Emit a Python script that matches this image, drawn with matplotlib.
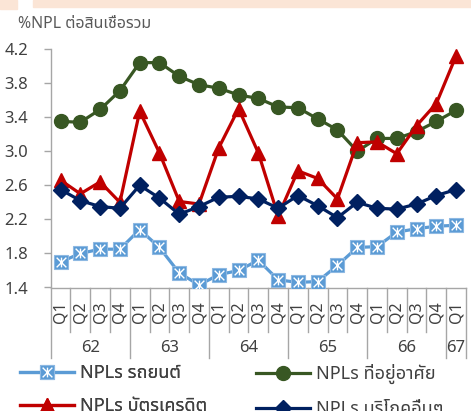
import matplotlib
matplotlib.use("Agg")
import matplotlib.pyplot as plt
from matplotlib import font_manager as fm
from matplotlib.path import Path
from matplotlib.lines import Line2D
from matplotlib.legend_handler import HandlerTuple
import matplotlib.transforms as mtransforms

# ---------------- data ----------------
quarters = ["Q1", "Q2", "Q3", "Q4", "Q1", "Q2", "Q3", "Q4", "Q1", "Q2", "Q3", "Q4",
            "Q1", "Q2", "Q3", "Q4", "Q1", "Q2", "Q3", "Q4", "Q1"]
years = ["62", "63", "64", "65", "66", "67"]
year_sizes = [4, 4, 4, 4, 4, 1]

auto = [1.70, 1.80, 1.85, 1.85, 2.08, 1.87, 1.57, 1.43, 1.55, 1.60, 1.72,
        1.49, 1.46, 1.47, 1.66, 1.87, 1.88, 2.05, 2.09, 2.12, 2.13]
residential = [3.35, 3.34, 3.49, 3.71, 4.04, 4.04, 3.88, 3.78, 3.74, 3.66, 3.62,
               3.52, 3.51, 3.38, 3.25, 3.00, 3.15, 3.15, 3.23, 3.35, 3.48]
credit = [2.66, 2.50, 2.64, 2.40, 3.47, 2.98, 2.41, 2.38, 3.04, 3.50, 2.98,
          2.24, 2.77, 2.68, 2.44, 3.10, 3.11, 2.97, 3.30, 3.56, 4.12]
other = [2.55, 2.42, 2.35, 2.33, 2.60, 2.45, 2.26, 2.35, 2.46, 2.47, 2.44,
         2.33, 2.48, 2.36, 2.22, 2.40, 2.33, 2.32, 2.38, 2.48, 2.55]

names = ["NPLs รถยนต์", "NPLs ที่อยู่อาศัย", "NPLs บัตรเครดิต", "NPLs บริโภคอื่นๆ"]
title = "%NPL ต่อสินเชื่อรวม"
yticks = [1.4, 1.8, 2.2, 2.6, 3.0, 3.4, 3.8, 4.2]

# ---------------- fonts ----------------
def find_thai_families():
    fams = []
    try:
        from fontTools.ttLib import TTFont
    except Exception:
        return fams
    for fe in fm.fontManager.ttflist:
        try:
            f = TTFont(fe.fname, fontNumber=0, lazy=True)
            cmap = f.getBestCmap()
            if cmap and 0x0E15 in cmap and 0x0E23 in cmap:
                if fe.name not in fams:
                    fams.append(fe.name)
        except Exception:
            pass
    return fams

thai = find_thai_families()
pref = [n for n in ["Noto Sans Thai", "Noto Sans Thai UI", "Loma", "Garuda",
                    "Tahoma", "Leelawadee UI"] if n in thai]
thai_pick = (pref + thai)[:1]
families = ["Noto Sans"] + thai_pick + ["DejaVu Sans"]
plt.rcParams["font.family"] = families

# ---------------- figure ----------------
W, H = 471, 411
fig = plt.figure(figsize=(W / 100, H / 100), dpi=100)
fig.patch.set_facecolor("white")

# peach band at top
fig.patches.append(plt.Rectangle((0, 1 - 9 / H), 17 / W, 9 / H, transform=fig.transFigure,
                                 color="#FBE5D6", zorder=0))
fig.patches.append(plt.Rectangle((33 / W, 1 - 7 / H), 1 - 33 / W, 7 / H,
                                 transform=fig.transFigure, color="#FBE5D6", zorder=0))

ax_l, ax_r, ax_t, ax_b = 50.7, 466.0, 49.0, 287.5
ax = fig.add_axes([ax_l / W, 1 - ax_b / H, (ax_r - ax_l) / W, (ax_b - ax_t) / H])

x = list(range(len(quarters)))
lw = 2.3
ms = 9.5

star = Path([(0, -1), (0, 1), (-1, -1), (1, 1), (-1, 1), (1, -1)],
            [Path.MOVETO, Path.LINETO, Path.MOVETO, Path.LINETO, Path.MOVETO, Path.LINETO])

c_auto, c_res, c_cred, c_oth = "#5B9BD5", "#385723", "#C00000", "#002060"

h_auto, = ax.plot(x, auto, color=c_auto, lw=lw, marker="s", ms=ms,
                  mfc=c_auto, mec="#8DB8E2", mew=0.8, zorder=3)
h_auto2, = ax.plot(x, auto, ls="none", marker=star, ms=7, mec="white", mew=1.0, zorder=3.1)
h_res, = ax.plot(x, residential, color=c_res, lw=lw, marker="o", ms=ms + 0.5,
                 mfc=c_res, mec=c_res, zorder=4)
h_cred, = ax.plot(x, credit, color=c_cred, lw=lw, marker="^", ms=ms + 1,
                  mfc=c_cred, mec=c_cred, zorder=5)
h_oth, = ax.plot(x, other, color=c_oth, lw=lw, marker="D", ms=ms - 1,
                 mfc=c_oth, mec=c_oth, zorder=6)

ax.set_xlim(-0.5, len(quarters) - 0.5)
ax.set_ylim(yticks[0], yticks[-1])
ax.set_yticks(yticks)
ax.set_yticklabels([f"{v:.1f}" for v in yticks])

axis_col = "#A6A6A6"
txt_col = "#404040"
for s in ["top", "right"]:
    ax.spines[s].set_visible(False)
for s in ["left", "bottom"]:
    ax.spines[s].set_color(axis_col)
    ax.spines[s].set_linewidth(1.0)

ax.tick_params(axis="y", direction="out", length=5.3, width=1.0, color=axis_col,
               labelsize=12, labelcolor=txt_col, pad=11)

# category (quarter) labels
ax.set_xticks(x)
ax.set_xticklabels(quarters, rotation=90, fontsize=11.5, color=txt_col)
ax.tick_params(axis="x", length=0, pad=10)
for lab in ax.get_xticklabels():
    lab.set_verticalalignment("top")
    lab.set_horizontalalignment("center")

# separators
bounds = [i - 0.5 for i in range(len(quarters) + 1)]
year_bounds = [-0.5]
acc = -0.5
for n in year_sizes:
    acc += n
    year_bounds.append(acc)
trans = mtransforms.blended_transform_factory(ax.transData, ax.transAxes)
ax_h = ax_b - ax_t
short_y = -(331.7 - ax_b) / ax_h
long_y = -(358.0 - ax_b) / ax_h
for b in bounds:
    yb = long_y if b in year_bounds else short_y
    ax.add_line(Line2D([b, b], [0, yb], transform=trans, color=axis_col, lw=1.0, clip_on=False))

# year labels
start = 0
year_y = -(348.0 - ax_b) / ax_h
for yl, n in zip(years, year_sizes):
    cx = start + (n - 1) / 2
    ax.text(cx, year_y, yl, transform=trans, ha="center", va="center",
            fontsize=12, color=txt_col)
    start += n

# title
fig.text(18 / W, 1 - 24 / H, title, ha="left", va="center", fontsize=11.5, color="#595959")

# legends (two columns)
hm = {tuple: HandlerTuple(ndivide=1)}
leg_kw = dict(loc="upper left", frameon=False, fontsize=13, handlelength=3.0,
              handletextpad=0.3, labelspacing=0.85, borderpad=0, borderaxespad=0,
              numpoints=1, labelcolor=txt_col)
leg1 = fig.legend([(h_auto, h_auto2), h_cred], [names[0], names[2]],
                  bbox_to_anchor=(20 / W, 1 - 364 / H), handler_map=hm, **leg_kw)
leg2 = fig.legend([h_res, h_oth], [names[1], names[3]],
                  bbox_to_anchor=(256 / W, 1 - 364 / H), **leg_kw)
fig.add_artist(leg1)

fig.savefig("out.png", dpi=100)
